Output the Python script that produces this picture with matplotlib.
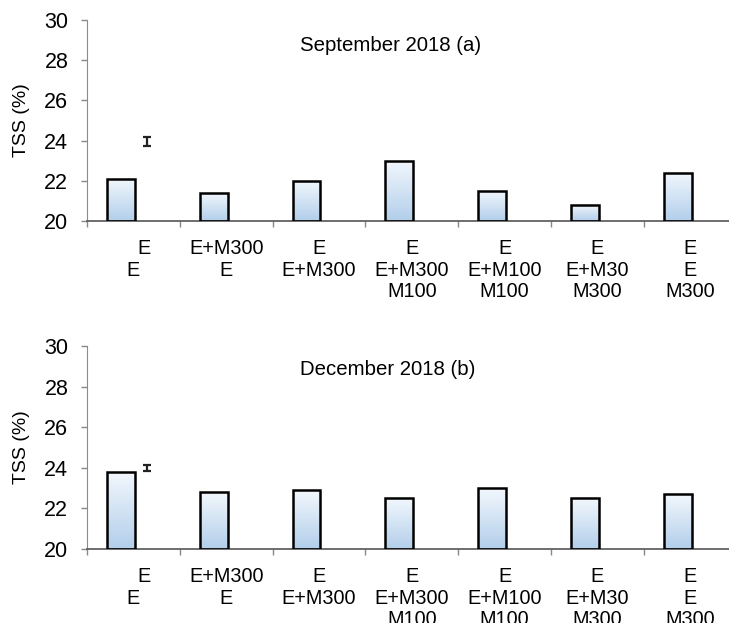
import numpy as np
import matplotlib.pyplot as plt

plt.rcParams['font.family'] = ['Liberation Sans', 'DejaVu Sans']

# treatment labels (first line padded like the original sheet)
treatments = ["    E\nE", "E+M300\nE", "E\nE+M300", "E\nE+M300\nM100",
              "E\nE+M100\nM100", "E\nE+M30\nM300", "E\nE\nM300"]
tss_sep = [22.1, 21.4, 22.0, 23.0, 21.5, 20.8, 22.4]
tss_dec = [23.8, 22.8, 22.9, 22.5, 23.0, 22.5, 22.7]
# LSD bar: centre and half-length
lsd_sep = [23.95, 0.22]
lsd_dec = [24.0, 0.14]
yticks = [20, 22, 24, 26, 28, 30]

W, H = 729, 623
fig = plt.figure(figsize=(W / 100, H / 100), dpi=100)

grad = np.linspace(0, 1, 64).reshape(-1, 1)
top_col = np.array([0.95, 0.97, 0.99])
bot_col = np.array([0.70, 0.81, 0.92])
grad_img = (top_col * (1 - grad) + bot_col * grad).reshape(64, 1, 3)


def panel(rect, values, lsd, title, title_pos):
    ax = fig.add_axes(rect)
    x = np.arange(len(values))
    bars = ax.bar(x - 0.135, np.array(values) - 20, width=0.3, bottom=20,
                  color='none', edgecolor='black', linewidth=1.8, zorder=3)
    for b in bars:
        x0, y0 = b.get_x(), b.get_y()
        im = ax.imshow(grad_img, extent=[x0, x0 + b.get_width(), y0, y0 + b.get_height()],
                       aspect='auto', zorder=2, origin='upper')
        im.set_clip_path(b)
    ax.errorbar([0.15], [lsd[0]], yerr=[lsd[1]], fmt='none', ecolor='#222222',
                elinewidth=1.6, capsize=3.2, capthick=1.6, zorder=4)

    ax.set_xlim(-0.5, 6.5)
    ax.set_ylim(20, 30)
    ax.set_yticks(yticks)
    ax.set_xticks(x)
    ax.set_xticklabels(treatments, fontsize=14.3, linespacing=1.17)
    ax.set_xticks(np.arange(-0.5, 7, 1), minor=True)
    ax.tick_params(axis='x', which='major', length=0, pad=13)
    ax.tick_params(axis='x', which='minor', length=4.5, width=1, color='#888888')
    ax.tick_params(axis='y', length=4.5, width=1, color='#888888', pad=9, labelsize=15.5)

    for s in ['top', 'right']:
        ax.spines[s].set_visible(False)
    ax.spines['left'].set_color('#8c8c8c')
    ax.spines['bottom'].set_color('#555555')
    ax.spines['bottom'].set_linewidth(1.2)

    ax.set_ylabel('TSS (%)', fontsize=14)
    ax.yaxis.set_label_coords(-0.087, 0.5)
    ax.text(title_pos[0], title_pos[1], title, transform=ax.transAxes,
            fontsize=14.7, ha='center', va='center')
    return ax


panel([87 / W, (H - 221) / H, 649.6 / W, 201 / H], tss_sep, lsd_sep,
      'September 2018 (a)', (0.467, 0.873))
panel([87 / W, (H - 549) / H, 649.6 / W, 203 / H], tss_dec, lsd_dec,
      'December 2018 (b)', (0.463, 0.885))

fig.savefig('out.png', dpi=100)
